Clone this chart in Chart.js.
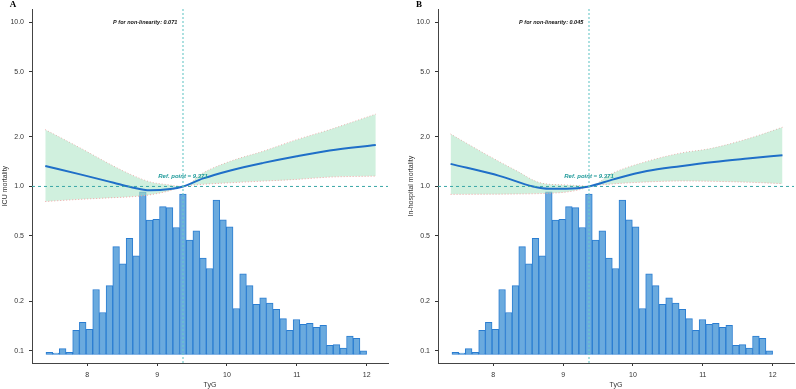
<!DOCTYPE html>
<html>
<head>
<meta charset="utf-8">
<script src="https://cdn.jsdelivr.net/npm/chart.js@4.4.1/dist/chart.umd.min.js"></script>
<style>
  html, body { margin: 0; padding: 0; background: #fff; }
  #wrap { position: relative; width: 796px; height: 389px; overflow: hidden; }
  .panel { position: absolute; top: 0; width: 390px; height: 389px; }
</style>
</head>
<body>
<div id="wrap">
  <div class="panel" style="left:0"><canvas id="chartA" width="390" height="389"></canvas></div>
  <div class="panel" style="left:406px"><canvas id="chartB" width="390" height="389"></canvas></div>
</div>
<script>
// histogram of TyG (same population in both panels), drawn on the log axis
const binStart = 7.41;
const binWidth = 0.0956;
const histBase = 0.095;
const histHeights = [0.098, 0.097, 0.103, 0.098, 0.133, 0.149, 0.135, 0.236, 0.171, 0.249,
  0.430, 0.338, 0.483, 0.378, 0.929, 0.624, 0.632, 0.754, 0.744, 0.563,
  0.900, 0.471, 0.537, 0.367, 0.317, 0.827, 0.626, 0.568, 0.181, 0.294,
  0.249, 0.192, 0.210, 0.195, 0.179, 0.157, 0.133, 0.155, 0.145, 0.147,
  0.139, 0.143, 0.108, 0.109, 0.104, 0.123, 0.119, 0.100];

const refPoint = 9.371;
const xTicks = [8, 9, 10, 11, 12];
const yTicks = [0.1, 0.2, 0.5, 1, 2, 5, 10];

// panel A: ICU mortality
const curveXA = [7.40, 7.90, 8.38, 8.62, 8.90, 9.19, 9.371, 9.66, 10.05, 10.52, 11.0, 11.47, 12.13];
const curveYA = [1.33, 1.184, 1.053, 0.992, 0.947, 0.965, 1.0, 1.119, 1.252, 1.391, 1.527, 1.654, 1.788];
const bandXA = [7.40, 7.90, 8.38, 8.62, 8.90, 9.15, 9.371, 9.66, 10.05, 10.52, 11.0, 11.47, 12.13];
const upperA = [2.215, 1.714, 1.328, 1.184, 1.065, 1.025, 1.0, 1.21, 1.424, 1.638, 1.927, 2.215, 2.754];
const lowerA = [0.81, 0.835, 0.855, 0.865, 0.89, 0.935, 1.0, 1.03, 1.053, 1.078, 1.104, 1.14, 1.156];

// panel B: in-hospital mortality
const curveXB = [7.39, 8.10, 8.57, 8.81, 9.05, 9.371, 9.72, 10.2, 10.68, 11.16, 11.64, 12.14];
const curveYB = [1.372, 1.156, 1.0, 0.969, 0.969, 1.0, 1.104, 1.24, 1.328, 1.41, 1.479, 1.549];
const bandXB = [7.39, 7.86, 8.34, 8.67, 9.05, 9.25, 9.371, 9.7, 10.2, 10.7, 11.11, 11.68, 12.14];
const upperB = [2.084, 1.6, 1.24, 1.053, 1.02, 1.01, 1.0, 1.2, 1.42, 1.6, 1.7, 1.97, 2.29];
const lowerB = [0.895, 0.897, 0.9, 0.905, 0.925, 0.96, 1.0, 1.035, 1.065, 1.08, 1.075, 1.06, 1.04];

const overlays = {
  id: 'overlays',
  afterDatasetsDraw(chart, args, o) {
    const { ctx, chartArea: a, scales: { x, y } } = chart;
    const xr = x.getPixelForValue(o.ref);
    const y1 = y.getPixelForValue(1);
    ctx.save();
    ctx.strokeStyle = '#3aa6a6';
    ctx.lineWidth = 1;
    ctx.setLineDash([3, 3]);
    ctx.beginPath(); ctx.moveTo(a.left, y1); ctx.lineTo(a.right, y1); ctx.stroke();

    ctx.strokeStyle = '#6cc8c8';
    ctx.lineWidth = 1.5;
    ctx.setLineDash([1.5, 2.5]);
    ctx.beginPath(); ctx.moveTo(xr, a.top); ctx.lineTo(xr, a.bottom); ctx.stroke();
    ctx.setLineDash([]);

    ctx.textBaseline = 'middle';
    ctx.textAlign = 'center';
    ctx.fillStyle = '#111';
    ctx.font = 'italic bold 5.5px "Liberation Sans", Arial, sans-serif';
    ctx.fillText(o.pText, x.getPixelForValue(8.83), y.getPixelForValue(10));

    ctx.fillStyle = '#1f9a9a';
    ctx.font = 'italic bold 6px "Liberation Sans", Arial, sans-serif';
    ctx.fillText('Ref. point = ' + o.ref, xr, y.getPixelForValue(1.16));

    ctx.fillStyle = '#000';
    ctx.font = 'bold 9px "Liberation Serif", "Times New Roman", serif';
    ctx.fillText(o.letter, 13, 5);
    ctx.restore();
  }
};

function makePanel(id, letter, yTitle, pText, cx, cy, bx, up, lo) {
  const histData = histHeights.map((h, i) => ({ x: binStart + binWidth * (i + 0.5), y: [histBase, h] }));
  const pts = (xs, ys) => xs.map((v, i) => ({ x: v, y: ys[i] }));
  return new Chart(document.getElementById(id), {
    type: 'bar',
    data: {
      datasets: [
        {
          type: 'bar', data: histData, order: 4,
          backgroundColor: '#6aaade', borderColor: '#2a7dd1', borderWidth: 1,
          borderSkipped: false, barPercentage: 1, categoryPercentage: 1
        },
        {
          type: 'line', data: pts(bx, up), order: 3,
          borderColor: '#f2a3a3', borderWidth: 1, borderDash: [1, 2],
          pointRadius: 0, cubicInterpolationMode: 'monotone', fill: false
        },
        {
          type: 'line', data: pts(bx, lo), order: 2,
          borderColor: '#f2a3a3', borderWidth: 1, borderDash: [1, 2],
          backgroundColor: 'rgba(170, 228, 195, 0.55)',
          pointRadius: 0, cubicInterpolationMode: 'monotone', fill: '-1'
        },
        {
          type: 'line', data: pts(cx, cy), order: 1,
          borderColor: '#1f6fc8', borderWidth: 2,
          pointRadius: 0, cubicInterpolationMode: 'monotone', fill: false
        }
      ]
    },
    options: {
      responsive: false,
      animation: false,
      events: [],
      layout: { padding: { top: 7, right: 2, bottom: 0, left: 0 } },
      plugins: {
        legend: { display: false },
        tooltip: { enabled: false },
        overlays: { ref: refPoint, letter, pText }
      },
      scales: {
        x: {
          type: 'linear', min: 7.21, max: 12.305, offset: false,
          afterBuildTicks: s => { s.ticks = xTicks.map(v => ({ value: v })); },
          afterFit: s => { s.height = 26; },
          ticks: { color: '#333', font: { size: 7, family: '"Liberation Sans", Arial' }, padding: 5, callback: v => String(v) },
          grid: { drawOnChartArea: false, drawTicks: true, tickLength: 3, color: '#333', offset: false },
          border: { display: true, color: '#444', width: 1 },
          title: { display: true, text: 'TyG', color: '#333', font: { size: 7, family: '"Liberation Sans", Arial' }, padding: 0 }
        },
        y: {
          type: 'logarithmic', min: 0.0843, max: 11.98,
          afterBuildTicks: s => { s.ticks = yTicks.map(v => ({ value: v })); },
          afterFit: s => { s.width = 32; },
          ticks: { color: '#333', font: { size: 7, family: '"Liberation Sans", Arial' }, padding: 5, callback: v => Number(v).toFixed(1) },
          grid: { drawOnChartArea: false, drawTicks: true, tickLength: 3, color: '#333' },
          border: { display: true, color: '#444', width: 1 },
          title: { display: true, text: yTitle, color: '#333', font: { size: 7, family: '"Liberation Sans", Arial' }, padding: { top: 1, bottom: 0 } }
        }
      }
    },
    plugins: [overlays]
  });
}

makePanel('chartA', 'A', 'ICU mortality', 'P for non-linearity: 0.071', curveXA, curveYA, bandXA, upperA, lowerA);
makePanel('chartB', 'B', 'In-hospital mortality', 'P for non-linearity: 0.045', curveXB, curveYB, bandXB, upperB, lowerB);
</script>
</body>
</html>
